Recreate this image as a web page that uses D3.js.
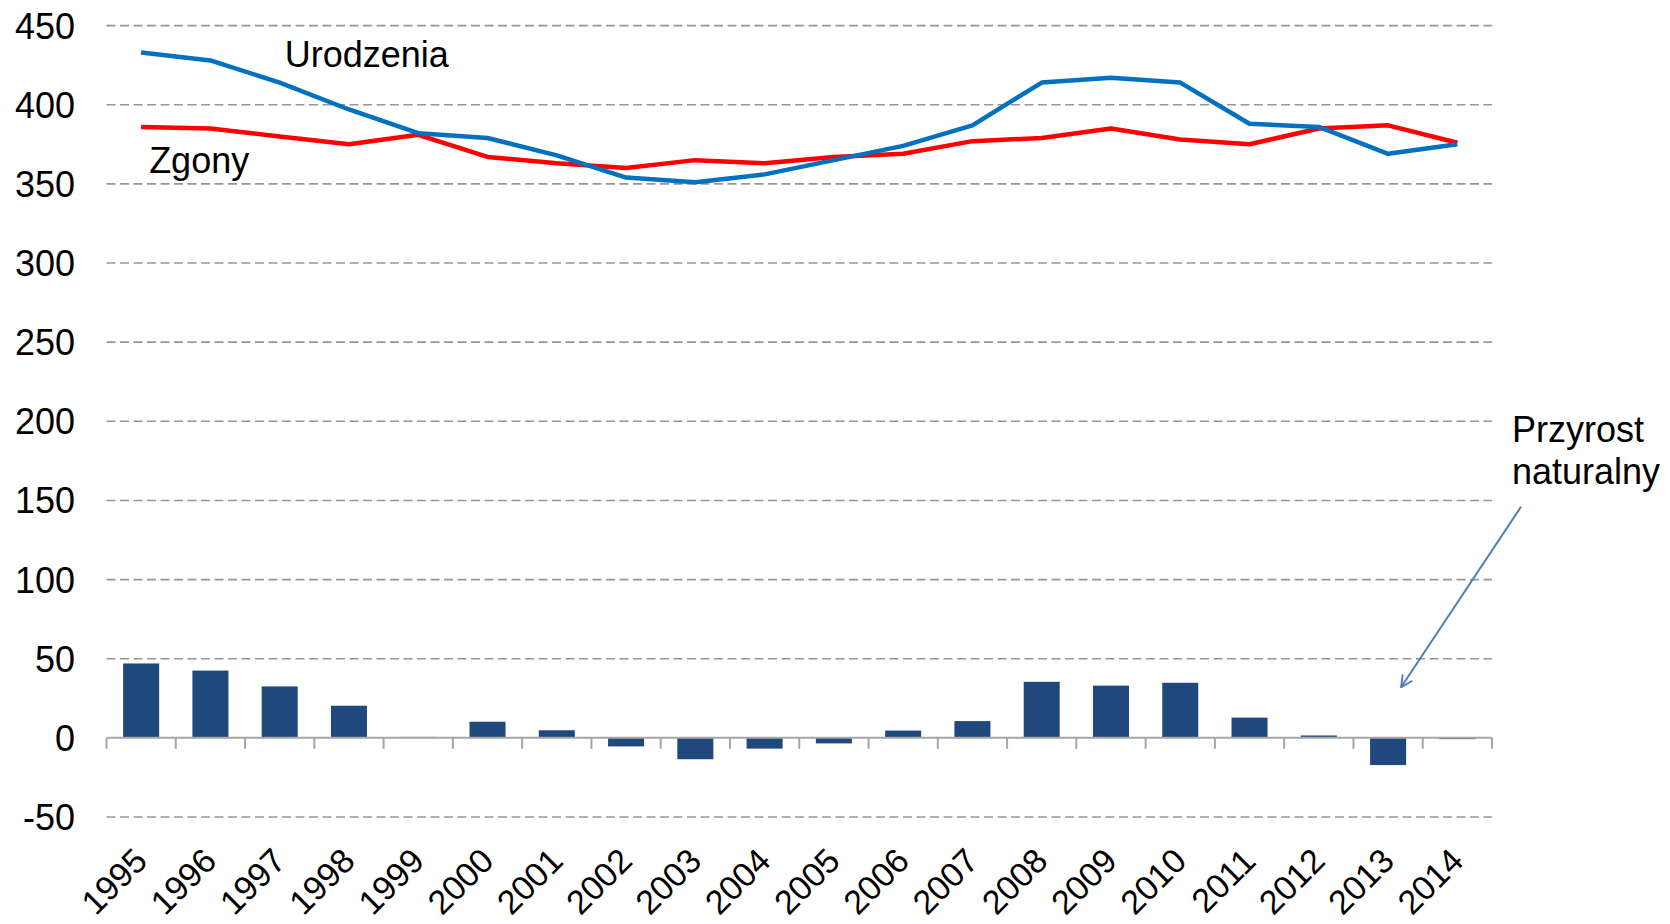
<!DOCTYPE html>
<html>
<head>
<meta charset="utf-8">
<script src="https://cdnjs.cloudflare.com/ajax/libs/d3/7.8.5/d3.min.js"></script>
<style>
  body { margin: 0; background: #fff; }
  text { font-family: "Liberation Sans", Arial, sans-serif; fill: #000; }
</style>
</head>
<body>
<div class="chart"></div>
<script>
// dane
const years = ["1995","1996","1997","1998","1999","2000","2001","2002","2003","2004",
               "2005","2006","2007","2008","2009","2010","2011","2012","2013","2014"];
const urodzenia = [433, 428, 414, 397, 382, 379, 368, 354, 351, 356,
                   365, 374, 387, 414, 417, 414, 388, 386, 369, 375];
const zgony = [386, 385, 380, 375, 381, 367, 363, 360, 365, 363,
               367, 369, 377, 379, 385, 378, 375, 385, 387, 376];
const przyrost = [47, 42.5, 32.5, 20.3, 0.6, 10.2, 4.8, -5.4, -13.5, -6.8,
                  -3.5, 4.6, 10.6, 35.4, 33, 34.8, 12.8, 1.5, -17.2, -0.8];
const yTicks = [-50, 0, 50, 100, 150, 200, 250, 300, 350, 400, 450];

const WIDTH = 1670, HEIGHT = 924;
const M = {top: 25.6, right: 178, bottom: 107, left: 106.5};

const svg = d3.select(".chart").append("svg")
    .attr("width", WIDTH)
    .attr("height", HEIGHT);

const x = d3.scaleBand()
    .domain(years)
    .range([M.left, WIDTH - M.right])
    .paddingInner(0.48)
    .paddingOuter(0.24);

const y = d3.scaleLinear()
    .domain([-50, 450])
    .range([HEIGHT - M.bottom, M.top]);

const cx = d => x(d) + x.bandwidth() / 2;

// siatka
svg.append("g").selectAll("line")
    .data(yTicks.filter(t => t !== 0)).enter()
    .append("line")
    .attr("x1", M.left).attr("x2", WIDTH - M.right)
    .attr("y1", d => y(d)).attr("y2", d => y(d))
    .attr("stroke", "#969696")
    .attr("stroke-width", 1.6)
    .attr("stroke-dasharray", "9,4.5");

// os Y - etykiety
svg.append("g").selectAll("text")
    .data(yTicks).enter()
    .append("text")
    .attr("x", 75)
    .attr("y", d => y(d))
    .attr("dy", "0.36em")
    .style("text-anchor", "end")
    .style("font-size", "36px")
    .text(d => d);

// slupki - przyrost naturalny
svg.append("g").selectAll("rect")
    .data(przyrost).enter()
    .append("rect")
    .attr("x", (d, i) => x(years[i]))
    .attr("width", x.bandwidth())
    .attr("y", d => y(Math.max(0, d)))
    .attr("height", d => Math.max(1, Math.abs(y(d) - y(0))))
    .attr("fill", "#1F497D");

// os X
const xAxis = svg.append("g");
xAxis.append("line")
    .attr("x1", M.left).attr("x2", WIDTH - M.right)
    .attr("y1", y(0)).attr("y2", y(0))
    .attr("stroke", "#A6A6A6")
    .attr("stroke-width", 2);
const bounds = years.map(d => x(d) - x.step() * x.paddingInner() / 2);
bounds.push(WIDTH - M.right);
xAxis.selectAll(".tick")
    .data(bounds).enter()
    .append("line")
    .attr("class", "tick")
    .attr("x1", d => d).attr("x2", d => d)
    .attr("y1", y(0)).attr("y2", y(0) + 11)
    .attr("stroke", "#A6A6A6")
    .attr("stroke-width", 2);

svg.append("g").selectAll("text")
    .data(years).enter()
    .append("text")
    .attr("transform", d => "translate(" + (cx(d) + 8) + "," + (y(-50) + 46) + ") rotate(-45)")
    .style("text-anchor", "end")
    .style("font-size", "34px")
    .text(d => d);

// linie
const line = d3.line()
    .x((d, i) => cx(years[i]))
    .y(d => y(d));

svg.append("path")
    .datum(zgony)
    .attr("d", line)
    .attr("fill", "none")
    .attr("stroke", "#FF0000")
    .attr("stroke-width", 4.5)
    .attr("stroke-linejoin", "round");

svg.append("path")
    .datum(urodzenia)
    .attr("d", line)
    .attr("fill", "none")
    .attr("stroke", "#0070C0")
    .attr("stroke-width", 4.5)
    .attr("stroke-linejoin", "round");

// opisy
svg.append("text")
    .attr("x", cx("1997") + 5).attr("y", y(424))
    .style("font-size", "36px")
    .text("Urodzenia");

svg.append("text")
    .attr("x", cx("1995") + 8).attr("y", y(357))
    .style("font-size", "36px")
    .text("Zgony");

const lab = svg.append("text")
    .attr("x", WIDTH - M.right + 20).attr("y", y(187))
    .style("font-size", "36px");
lab.append("tspan").text("Przyrost");
lab.append("tspan").attr("x", WIDTH - M.right + 20).attr("dy", 42).text("naturalny");

// strzalka
svg.append("defs").append("marker")
    .attr("id", "arr")
    .attr("viewBox", "0 0 12 12")
    .attr("refX", 11).attr("refY", 6)
    .attr("markerWidth", 7).attr("markerHeight", 7)
    .attr("markerUnits", "strokeWidth")
    .attr("orient", "auto")
    .append("path")
    .attr("d", "M1,1 L11,6 L1,11")
    .attr("fill", "none")
    .attr("stroke", "#4A7EBB")
    .attr("stroke-width", 1.6);

svg.append("line")
    .attr("x1", WIDTH - M.right + 29).attr("y1", y(146))
    .attr("x2", cx("2013") + 13).attr("y2", y(32))
    .attr("stroke", "#4A7EBB")
    .attr("stroke-width", 2)
    .attr("marker-end", "url(#arr)");
</script>
</body>
</html>
